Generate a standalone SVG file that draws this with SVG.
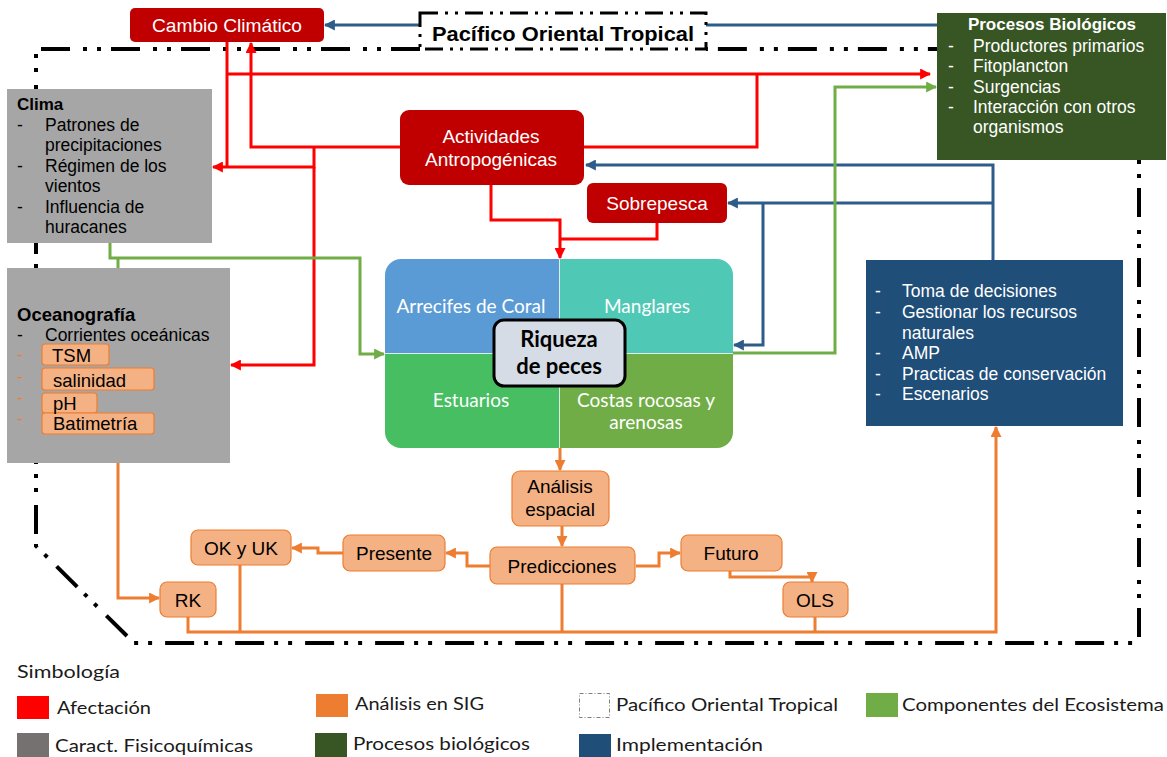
<svg xmlns="http://www.w3.org/2000/svg" width="1167" height="757" viewBox="0 0 1167 757">
<style>
.a{font-family:"Liberation Sans",Arial,sans-serif}
.c{font-family:Lato,"Open Sans",sans-serif}
.w{fill:#fff}
.k{fill:#000}
.b{font-weight:bold}
.t19{font-size:19px}
.t17{font-size:17px}
.tl{font-size:17.5px}
.mid{text-anchor:middle}
.red{fill:#C00000}
.gray{fill:#A6A6A6}
.ob{fill:#F4B183;stroke:#ED7D31;stroke-width:1.2}
.cr{fill:none;stroke:#FF0000;stroke-width:3}
.cb{fill:none;stroke:#2E5C8A;stroke-width:3}
.cg{fill:none;stroke:#70AD47;stroke-width:3}
.co{fill:none;stroke:#ED7D31;stroke-width:3}
.border{fill:none;stroke:#000;stroke-width:4;stroke-dasharray:29 10 4 10 4 13}
.qt{font-family:Lato,"Open Sans",sans-serif;font-size:19px;fill:#fff;text-anchor:middle}
.lg{font-family:Lato,"Open Sans",sans-serif;font-size:18px;fill:#1a1a1a}
</style>
<defs>
<marker id="mr" viewBox="0 0 10 10" refX="9" refY="5" markerWidth="11" markerHeight="11" markerUnits="userSpaceOnUse" orient="auto"><path d="M0,0 L10,5 L0,10 z" fill="#FF0000"/></marker>
<marker id="mb" viewBox="0 0 10 10" refX="9" refY="5" markerWidth="11" markerHeight="11" markerUnits="userSpaceOnUse" orient="auto"><path d="M0,0 L10,5 L0,10 z" fill="#2E5C8A"/></marker>
<marker id="mg" viewBox="0 0 10 10" refX="9" refY="5" markerWidth="11" markerHeight="11" markerUnits="userSpaceOnUse" orient="auto"><path d="M0,0 L10,5 L0,10 z" fill="#70AD47"/></marker>
<marker id="mo" viewBox="0 0 10 10" refX="9" refY="5" markerWidth="11" markerHeight="11" markerUnits="userSpaceOnUse" orient="auto"><path d="M0,0 L10,5 L0,10 z" fill="#ED7D31"/></marker>
<clipPath id="qclip"><rect x="385" y="259" width="348" height="189" rx="16"/></clipPath>
</defs>
<rect width="1167" height="757" fill="#fff"/>

<!-- region border -->
<path class="border" d="M420,49 L36,49 L36,546 L134,643 L1139,643 L1139,49 L706,49"/>

<!-- connectors -->
<g id="connectors">
  <!-- blue -->
  <path class="cb" d="M937,25 H325" marker-end="url(#mb)"/>
  <path class="cb" d="M993,260 V165 H586" marker-end="url(#mb)"/>
  <path class="cb" d="M993,203 H728" marker-end="url(#mb)"/>
  <path class="cb" d="M763,203 V345 H734" marker-end="url(#mb)"/>
  <!-- red -->
  <path class="cr" d="M227,42 V167"/>
  <path class="cr" d="M227,74 H930" marker-end="url(#mr)"/>
  <path class="cr" d="M584,147 H757 V74"/>
  <path class="cr" d="M400,147 H251 V43" marker-end="url(#mr)"/>
  <path class="cr" d="M314,147 V167 H213" marker-end="url(#mr)"/>
  <path class="cr" d="M314,167 V365 H231" marker-end="url(#mr)"/>
  <path class="cr" d="M491,185 V220 H560 V258" marker-end="url(#mr)"/>
  <path class="cr" d="M657,223 V239 H560"/>
  <!-- green -->
  <path class="cg" d="M110,243 V258 H360 V354 H384" marker-end="url(#mg)"/>
  <path class="cg" d="M118,268 V258"/>
  <path class="cg" d="M733,353 H835 V87 H936" marker-end="url(#mg)"/>
  <!-- orange -->
  <path class="co" d="M560,448 V470" marker-end="url(#mo)"/>
  <path class="co" d="M562,526 V546" marker-end="url(#mo)"/>
  <path class="co" d="M490,566 H467 V553 H446" marker-end="url(#mo)"/>
  <path class="co" d="M343,553 H318 V548 H292" marker-end="url(#mo)"/>
  <path class="co" d="M636,566 H659 V553 H680" marker-end="url(#mo)"/>
  <path class="co" d="M730,571 V577 H812 V582" marker-end="url(#mo)"/>
  <path class="co" d="M118,463 V598 H159" marker-end="url(#mo)"/>
  <path class="co" d="M188,617 V632 H996 V427" marker-end="url(#mo)"/>
  <path class="co" d="M240,565 V632"/>
  <path class="co" d="M562,584 V632"/>
  <path class="co" d="M815,617 V632"/>
</g>

<!-- Pacífico Oriental Tropical -->
<g id="pacifico">
  <rect x="420" y="13" width="286" height="36" fill="#fff" stroke="#000" stroke-width="3" stroke-dasharray="18 7 3 7 3 7"/>
  <text class="a b k mid" x="563" y="41" font-size="20" textLength="262" lengthAdjust="spacingAndGlyphs">Pacífico Oriental Tropical</text>
</g>

<!-- Cambio Climático -->
<g id="cambio">
  <rect class="red" x="130" y="8" width="194" height="34" rx="5"/>
  <text class="a t19 w mid" x="227" y="32" textLength="150" lengthAdjust="spacingAndGlyphs">Cambio  Climático</text>
</g>

<!-- Procesos Biológicos -->
<g id="procesos">
  <rect x="937" y="13" width="229" height="147" fill="#375623"/>
  <text class="a b t17 w mid" x="1052" y="30">Procesos Biológicos</text>
  <g class="a tl w">
    <text x="948" y="52">-</text><text x="973" y="52">Productores  primarios</text>
    <text x="948" y="72">-</text><text x="973" y="72">Fitoplancton</text>
    <text x="948" y="93">-</text><text x="973" y="93">Surgencias</text>
    <text x="948" y="113">-</text><text x="973" y="113">Interacción con otros</text>
    <text x="973" y="133">organismos</text>
  </g>
</g>

<!-- Clima -->
<g id="clima">
  <rect class="gray" x="7" y="89" width="205" height="154"/>
  <text class="a b t17 k" x="17" y="110">Clima</text>
  <g class="a tl k">
    <text x="17" y="131">-</text><text x="45" y="131">Patrones de</text>
    <text x="45" y="151">precipitaciones</text>
    <text x="17" y="172">-</text><text x="45" y="172">Régimen de los</text>
    <text x="45" y="192">vientos</text>
    <text x="17" y="213">-</text><text x="45" y="213">Influencia de</text>
    <text x="45" y="233">huracanes</text>
  </g>
</g>

<!-- Oceanografía -->
<g id="oceanografia">
  <rect class="gray" x="7" y="268" width="223" height="195"/>
  <text class="a b k" x="17" y="321" font-size="18.5">Oceanografía</text>
  <text class="a tl k" x="17" y="341">-</text>
  <text class="a tl k" x="45" y="341">Corrientes oceánicas</text>
  <g class="a tl" fill="#ED7D31">
    <text x="17" y="361">-</text>
    <text x="17" y="383">-</text>
    <text x="17" y="404">-</text>
    <text x="17" y="425">-</text>
  </g>
  <rect class="ob" x="42" y="344" width="67" height="21" rx="3"/>
  <rect class="ob" x="42" y="368" width="112" height="22" rx="3"/>
  <rect class="ob" x="42" y="393" width="55" height="20" rx="3"/>
  <rect class="ob" x="42" y="413" width="112" height="21" rx="3"/>
  <g class="a k" font-size="18.5">
    <text x="52" y="362">TSM</text>
    <text x="53" y="387">salinidad</text>
    <text x="53" y="410">pH</text>
    <text x="53" y="430">Batimetría</text>
  </g>
</g>

<!-- Actividades Antropogénicas -->
<g id="actividades">
  <rect class="red" x="400" y="110" width="184" height="75" rx="9"/>
  <text class="a t19 w mid" x="491" y="143">Actividades</text>
  <text class="a t19 w mid" x="491" y="166">Antropogénicas</text>
</g>

<!-- Sobrepesca -->
<g id="sobrepesca">
  <rect class="red" x="587" y="183" width="140" height="40" rx="6"/>
  <text class="a t19 w mid" x="657" y="210">Sobrepesca</text>
</g>

<!-- Ecosystem components -->
<g id="ecosistemas">
  <g clip-path="url(#qclip)">
    <rect x="385" y="259" width="175" height="94" fill="#5B9BD5"/>
    <rect x="560" y="259" width="173" height="94" fill="#4FC9B5"/>
    <rect x="385" y="353" width="175" height="95" fill="#47BE62"/>
    <rect x="560" y="353" width="173" height="95" fill="#70AD47"/>
  </g>
  <path d="M559.5,259 V448 M385,353.5 H733" stroke="#DDEEE6" stroke-width="1" fill="none"/>
  <text class="qt" x="471" y="313">Arrecifes de Coral</text>
  <text class="qt" x="647" y="313">Manglares</text>
  <text class="qt" x="471" y="407">Estuarios</text>
  <text class="qt" x="646" y="407">Costas rocosas y</text>
  <text class="qt" x="646" y="429">arenosas</text>
</g>

<!-- Riqueza de peces -->
<g id="riqueza">
  <rect x="494" y="320" width="131" height="66" rx="10" fill="#D6DCE5" stroke="#000" stroke-width="3"/>
  <text class="c b k mid" x="559" y="347" font-size="22">Riqueza</text>
  <text class="c b k mid" x="559" y="374" font-size="22">de peces</text>
</g>

<!-- Implementación -->
<g id="implementacion">
  <rect x="866" y="260" width="257" height="166" fill="#1F4E79"/>
  <g class="a tl w">
    <text x="875" y="297">-</text><text x="902" y="297">Toma de decisiones</text>
    <text x="875" y="318">-</text><text x="902" y="318">Gestionar los recursos</text>
    <text x="902" y="339">naturales</text>
    <text x="875" y="359">-</text><text x="902" y="359">AMP</text>
    <text x="875" y="380">-</text><text x="902" y="380">Practicas de conservación</text>
    <text x="875" y="400">-</text><text x="902" y="400">Escenarios</text>
  </g>
</g>

<!-- GIS analysis nodes -->
<g id="analisis">
  <rect class="ob" x="512" y="471" width="97" height="55" rx="8"/>
  <text class="a t19 k mid" x="560" y="493">Análisis</text>
  <text class="a t19 k mid" x="560" y="516">espacial</text>
</g>
<g id="predicciones">
  <rect class="ob" x="490" y="547" width="145" height="37" rx="7"/>
  <text class="a t19 k mid" x="562" y="573">Predicciones</text>
</g>
<g id="presente">
  <rect class="ob" x="343" y="535" width="102" height="36" rx="7"/>
  <text class="a t19 k mid" x="394" y="560">Presente</text>
</g>
<g id="okuk">
  <rect class="ob" x="191" y="530" width="100" height="35" rx="7"/>
  <text class="a t19 k mid" x="241" y="555">OK y UK</text>
</g>
<g id="rk">
  <rect class="ob" x="160" y="582" width="56" height="35" rx="7"/>
  <text class="a t19 k mid" x="188" y="607">RK</text>
</g>
<g id="futuro">
  <rect class="ob" x="681" y="535" width="101" height="36" rx="7"/>
  <text class="a t19 k mid" x="731" y="560">Futuro</text>
</g>
<g id="ols">
  <rect class="ob" x="783" y="582" width="65" height="35" rx="7"/>
  <text class="a t19 k mid" x="815" y="607">OLS</text>
</g>

<!-- Legend -->
<g id="legend">
  <text class="lg" x="17" y="678" textLength="103" lengthAdjust="spacingAndGlyphs">Simbología</text>
  <rect x="17" y="696" width="32" height="23" fill="#FF0000"/>
  <text class="lg" x="57" y="714" textLength="94" lengthAdjust="spacingAndGlyphs">Afectación</text>
  <rect x="17" y="733" width="32" height="24" fill="#767171"/>
  <text class="lg" x="55" y="752" textLength="198" lengthAdjust="spacingAndGlyphs">Caract. Fisicoquímicas</text>
  <rect x="316" y="694" width="32" height="23" fill="#ED7D31"/>
  <text class="lg" x="355" y="710" textLength="129" lengthAdjust="spacingAndGlyphs">Análisis en SIG</text>
  <rect x="315" y="733" width="32" height="24" fill="#375623"/>
  <text class="lg" x="353" y="750" textLength="177" lengthAdjust="spacingAndGlyphs">Procesos biológicos</text>
  <rect x="579.5" y="693.5" width="30" height="24" fill="#fff" stroke="#7F7F7F" stroke-width="1" stroke-dasharray="4 2 1 2"/>
  <text class="lg" x="616" y="711" textLength="222" lengthAdjust="spacingAndGlyphs">Pacífico Oriental Tropical</text>
  <rect x="866" y="693" width="32" height="24" fill="#70AD47"/>
  <text class="lg" x="902" y="711" textLength="262" lengthAdjust="spacingAndGlyphs">Componentes del Ecosistema</text>
  <rect x="579" y="734" width="32" height="23" fill="#1F4E79"/>
  <text class="lg" x="616" y="751" textLength="147" lengthAdjust="spacingAndGlyphs">Implementación</text>
</g>
</svg>
